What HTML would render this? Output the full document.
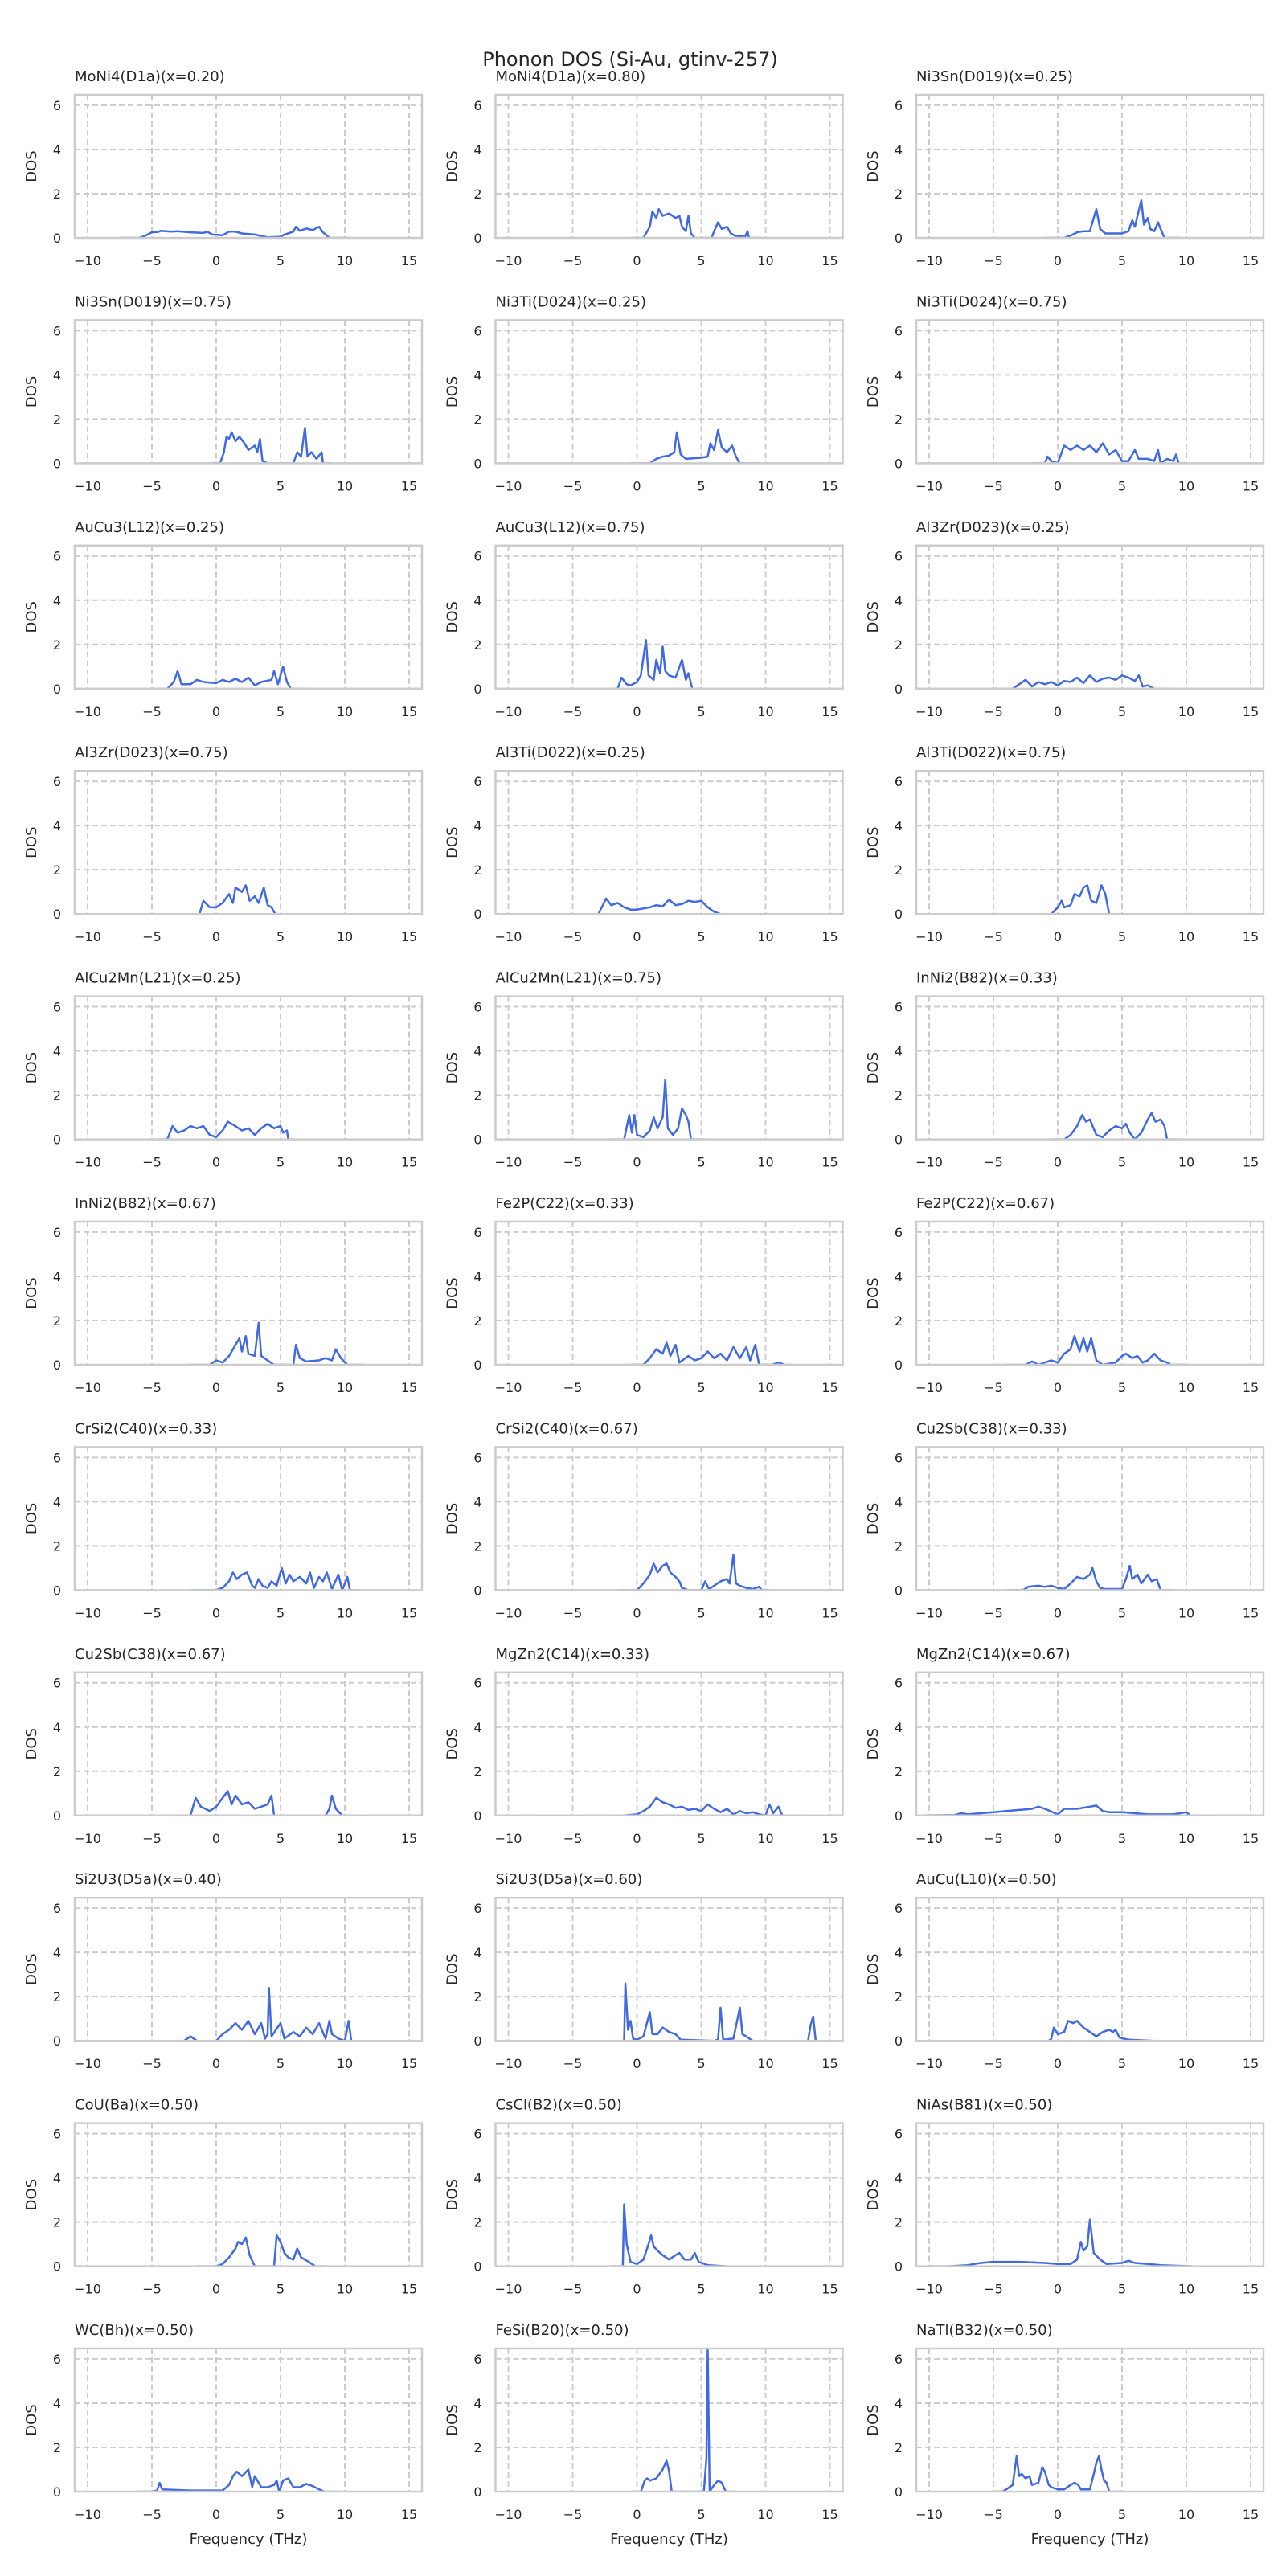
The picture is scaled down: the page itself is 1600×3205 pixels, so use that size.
<!DOCTYPE html>
<html><head><meta charset="utf-8"><title>Phonon DOS (Si-Au, gtinv-257)</title>
<style>
html,body{margin:0;padding:0;background:#fff;}
svg text{font-family:"DejaVu Sans","Liberation Sans",sans-serif;fill:#262626;}
</style></head>
<body>
<svg id="fig" xmlns="http://www.w3.org/2000/svg" width="1600" height="3200" viewBox="0 0 1600 3200">
<rect width="1600" height="3200" fill="#fff"/>
<text x="784" y="82" font-size="24" text-anchor="middle">Phonon DOS (Si-Au, gtinv-257)</text>
</svg>
<script>
const panelTitles = ["MoNi4(D1a)(x=0.20)","MoNi4(D1a)(x=0.80)","Ni3Sn(D019)(x=0.25)","Ni3Sn(D019)(x=0.75)","Ni3Ti(D024)(x=0.25)","Ni3Ti(D024)(x=0.75)","AuCu3(L12)(x=0.25)","AuCu3(L12)(x=0.75)","Al3Zr(D023)(x=0.25)","Al3Zr(D023)(x=0.75)","Al3Ti(D022)(x=0.25)","Al3Ti(D022)(x=0.75)","AlCu2Mn(L21)(x=0.25)","AlCu2Mn(L21)(x=0.75)","InNi2(B82)(x=0.33)","InNi2(B82)(x=0.67)","Fe2P(C22)(x=0.33)","Fe2P(C22)(x=0.67)","CrSi2(C40)(x=0.33)","CrSi2(C40)(x=0.67)","Cu2Sb(C38)(x=0.33)","Cu2Sb(C38)(x=0.67)","MgZn2(C14)(x=0.33)","MgZn2(C14)(x=0.67)","Si2U3(D5a)(x=0.40)","Si2U3(D5a)(x=0.60)","AuCu(L10)(x=0.50)","CoU(Ba)(x=0.50)","CsCl(B2)(x=0.50)","NiAs(B81)(x=0.50)","WC(Bh)(x=0.50)","FeSi(B20)(x=0.50)","NaTl(B32)(x=0.50)"];
const xTicks = [-10,-5,0,5,10,15];
const yTicks = [0,2,4,6];
const xTickLabels = ["\u221210","\u22125","0","5","10","15"];
const yTickLabels = ["0","2","4","6"];
const xDomain = [-11,16];
const yDomain = [0,6.47];

const dosMoNi4_020 = [[-7.5,0],[-6,0],[-5.5,0.1],[-5,0.25],[-4.5,0.27],[-4.3,0.32],[-3.5,0.28],[-3,0.3],[-2,0.25],[-1,0.22],[-0.7,0.28],[-0.3,0.15],[0.5,0.12],[1,0.28],[1.5,0.28],[2,0.2],[3,0.15],[4,0.02],[5,0.05],[5.3,0.15],[6,0.28],[6.2,0.5],[6.5,0.32],[7,0.42],[7.5,0.35],[8,0.5],[8.3,0.25],[8.8,0],[10.3,0]];
const dosMoNi4_080 = [[-0.5,0],[0.5,0],[1,0.5],[1.2,1.2],[1.5,0.9],[1.7,1.3],[2,1.0],[2.5,1.1],[3,0.9],[3.3,1.0],[3.5,0.5],[3.8,0.3],[4,1.0],[4.2,0.2],[4.5,0],[5.8,0],[6,0.3],[6.3,0.7],[6.6,0.4],[7,0.5],[7.3,0.2],[7.6,0.1],[8.4,0.05],[8.6,0.3],[8.7,0],[9.5,0]];
const dosNi3Sn_025 = [[-1,0],[0.5,0],[1,0.1],[1.5,0.25],[2,0.3],[2.5,0.3],[3,1.3],[3.3,0.4],[3.7,0.2],[4.5,0.2],[5,0.2],[5.5,0.3],[5.8,0.8],[6,0.5],[6.2,1.0],[6.5,1.7],[6.7,0.6],[7,0.9],[7.2,0.4],[7.5,0.3],[7.8,0.7],[8,0.4],[8.3,0],[9.5,0]];
const dosNi3Sn_075 = [[-0.5,0],[0.3,0],[0.6,0.5],[0.8,1.2],[1,1.1],[1.2,1.4],[1.5,1.0],[1.8,1.2],[2.2,0.9],[2.5,0.6],[3,0.8],[3.2,0.5],[3.4,1.1],[3.6,0.1],[4,0],[6,0],[6.3,0.5],[6.6,0.3],[6.9,1.6],[7.1,0.3],[7.4,0.5],[7.8,0.2],[8.2,0.5],[8.3,0],[9,0]];
const dosNi3Ti_025 = [[-0.5,0],[1,0],[1.5,0.2],[2,0.3],[2.5,0.35],[2.9,0.5],[3.1,1.4],[3.4,0.4],[3.8,0.2],[5,0.25],[5.5,0.3],[5.7,0.9],[6,0.6],[6.3,1.5],[6.6,0.7],[7,0.5],[7.4,0.8],[7.7,0.3],[8,0],[9.5,0]];
const dosNi3Ti_075 = [[-2,0],[-1,0],[-0.8,0.3],[-0.5,0.1],[0,0],[0.5,0.8],[1,0.6],[1.5,0.8],[2,0.6],[2.5,0.8],[3,0.5],[3.5,0.9],[4,0.4],[4.5,0.6],[5,0.1],[5.5,0.1],[6,0.6],[6.3,0.2],[7,0.2],[7.5,0.1],[7.8,0.6],[8,0],[8.5,0.2],[9,0.1],[9.2,0.4],[9.4,0],[10,0]];
const dosAuCu3_025 = [[-5,0],[-3.8,0],[-3.3,0.3],[-3,0.8],[-2.7,0.2],[-2,0.2],[-1.5,0.4],[-1,0.3],[0,0.25],[0.5,0.4],[1,0.3],[1.5,0.45],[2,0.3],[2.5,0.5],[3,0.15],[3.5,0.3],[4.3,0.4],[4.5,0.8],[4.8,0.2],[5.2,1.0],[5.5,0.3],[5.8,0],[7,0]];
const dosAuCu3_075 = [[-2,0],[-1.5,0],[-1.2,0.5],[-0.8,0.2],[-0.5,0.15],[0,0.3],[0.3,0.6],[0.7,2.2],[0.9,0.6],[1.3,0.4],[1.5,1.3],[1.8,0.7],[2,1.9],[2.2,0.8],[2.5,0.6],[3,0.5],[3.5,1.3],[3.8,0.4],[4,0.7],[4.3,0],[5,0]];
const dosAl3Zr_025 = [[-5,0],[-3.5,0],[-3,0.2],[-2.5,0.4],[-2,0.1],[-1.5,0.3],[-1,0.2],[-0.5,0.3],[0,0.15],[0.5,0.35],[1,0.3],[1.5,0.5],[2,0.25],[2.5,0.6],[3,0.3],[3.5,0.45],[4,0.5],[4.5,0.4],[5,0.6],[5.5,0.5],[6,0.35],[6.3,0.6],[6.6,0.1],[7,0.15],[7.5,0],[9,0]];
const dosAl3Zr_075 = [[-2,0],[-1.3,0],[-1,0.6],[-0.5,0.3],[0,0.3],[0.5,0.5],[1,0.9],[1.3,0.5],[1.5,1.2],[2,1.0],[2.3,1.3],[2.6,0.6],[3,0.8],[3.3,0.5],[3.7,1.2],[4,0.4],[4.3,0.3],[4.6,0],[5.5,0]];
const dosAl3Ti_025 = [[-4,0],[-3,0],[-2.4,0.7],[-2,0.4],[-1.5,0.5],[-1,0.3],[-0.5,0.2],[0,0.2],[1,0.3],[1.5,0.4],[2,0.35],[2.5,0.65],[3,0.4],[3.5,0.45],[4,0.6],[4.5,0.55],[5,0.6],[5.5,0.3],[6,0.1],[6.5,0],[7.2,0]];
const dosAl3Ti_075 = [[-1,0],[-0.5,0],[0,0.3],[0.3,0.6],[0.5,0.3],[1,0.4],[1.3,0.9],[1.7,0.8],[2,1.2],[2.3,1.3],[2.6,0.6],[3,0.5],[3.4,1.3],[3.7,0.9],[4,0],[5,0]];
const dosAlCu2Mn_025 = [[-4.5,0],[-3.8,0],[-3.4,0.6],[-3,0.3],[-2.5,0.4],[-2,0.6],[-1.5,0.5],[-1,0.6],[-0.5,0.2],[0,0.1],[0.5,0.4],[0.9,0.8],[1.5,0.6],[2,0.4],[2.5,0.5],[3,0.2],[3.5,0.5],[4,0.7],[4.5,0.5],[5,0.6],[5.2,0.3],[5.5,0.4],[5.6,0],[6,0]];
const dosAlCu2Mn_075 = [[-2,0],[-1,0],[-0.6,1.1],[-0.4,0.3],[-0.2,1.1],[0,0.2],[0.5,0.1],[1,0.4],[1.3,1.0],[1.6,0.5],[2,1.0],[2.2,2.7],[2.4,0.5],[2.8,0.2],[3.2,0.5],[3.5,1.4],[3.8,1.1],[4,0.8],[4.2,0],[5.3,0]];
const dosInNi2_033 = [[-0.5,0],[0.5,0],[1,0.2],[1.5,0.6],[1.9,1.1],[2.2,0.8],[2.5,0.9],[3,0.2],[3.5,0.1],[4,0.4],[4.5,0.6],[5,0.5],[5.3,0.7],[5.6,0.3],[6,0],[6.5,0.3],[7,0.9],[7.3,1.2],[7.6,0.8],[8,0.9],[8.3,0.6],[8.5,0],[9.5,0]];
const dosInNi2_067 = [[-2,0],[-0.5,0],[0,0.2],[0.5,0.1],[1,0.4],[1.5,0.9],[1.8,1.2],[2,0.6],[2.3,1.3],[2.5,0.5],[3,0.4],[3.3,1.9],[3.5,0.4],[4,0.2],[4.5,0],[6,0],[6.2,0.9],[6.5,0.3],[7,0.15],[8,0.2],[8.5,0.3],[9,0.2],[9.3,0.7],[9.7,0.3],[10.2,0],[11.5,0]];
const dosFe2P_033 = [[-1,0],[0.5,0],[1,0.3],[1.5,0.7],[2,0.5],[2.3,1.0],[2.6,0.4],[3,0.9],[3.3,0.1],[4,0.4],[4.5,0.2],[5,0.3],[5.5,0.6],[6,0.3],[6.5,0.5],[7,0.2],[7.5,0.8],[8,0.3],[8.5,0.8],[8.8,0.2],[9.2,0.9],[9.5,0],[10.5,0],[11,0.1],[11.5,0],[12,0]];
const dosFe2P_067 = [[-4,0],[-2.5,0],[-2,0.15],[-1.5,0],[-1,0.1],[-0.5,0.2],[0,0.1],[0.5,0.5],[1,0.7],[1.3,1.3],[1.7,0.6],[2,1.2],[2.3,0.6],[2.6,1.2],[3,0.2],[3.5,0],[4.5,0.1],[5,0.4],[5.3,0.5],[5.8,0.3],[6.2,0.4],[6.6,0.1],[7,0.2],[7.5,0.5],[8,0.2],[8.5,0.1],[8.8,0],[10,0]];
const dosCrSi2_033 = [[-2,0],[0,0],[0.5,0.1],[1,0.4],[1.3,0.8],[1.6,0.5],[2,0.7],[2.4,0.8],[2.8,0.2],[3,0.1],[3.3,0.5],[3.6,0.2],[4,0.1],[4.3,0.4],[4.7,0.2],[5.1,1.0],[5.4,0.3],[5.7,0.7],[6,0.4],[6.5,0.6],[7,0.3],[7.3,0.8],[7.6,0.1],[8,0.6],[8.3,0.4],[8.6,0.8],[9,0.05],[9.5,0.7],[9.8,0],[10.2,0.6],[10.4,0],[11.3,0]];
const dosCrSi2_067 = [[-1.5,0],[0,0],[0.5,0.3],[1,0.7],[1.3,1.2],[1.6,0.8],[2,1.1],[2.3,1.2],[2.6,0.8],[3,0.6],[3.3,0.4],[3.5,0.1],[4,0],[5,0],[5.3,0.4],[5.6,0.05],[6,0.2],[6.5,0.4],[7,0.5],[7.2,0.3],[7.5,1.6],[7.7,0.3],[8,0.2],[8.5,0.1],[9,0.05],[9.5,0.15],[9.7,0],[10.3,0]];
const dosCu2Sb_033 = [[-4,0],[-2.7,0],[-2.3,0.15],[-1.5,0.2],[-1,0.15],[-0.5,0.2],[0,0.1],[0.5,0.05],[1,0.3],[1.5,0.6],[2,0.5],[2.5,0.7],[2.7,1.0],[3,0.4],[3.3,0.1],[3.6,0.05],[5,0.05],[5.3,0.5],[5.6,1.1],[5.8,0.5],[6.2,0.7],[6.5,0.3],[7,0.7],[7.3,0.4],[7.7,0.5],[8,0],[9,0]];
const dosCu2Sb_067 = [[-3,0],[-2,0],[-1.6,0.8],[-1.2,0.4],[-0.5,0.2],[0,0.4],[0.5,0.8],[0.9,1.1],[1.2,0.5],[1.5,0.9],[2,0.5],[2.5,0.6],[3,0.3],[3.5,0.4],[4,0.5],[4.3,0.9],[4.5,0],[8.5,0],[8.8,0.3],[9,0.9],[9.3,0.3],[9.8,0],[11,0]];
const dosMgZn2_033 = [[-2,0],[-1,0],[0,0.05],[0.5,0.2],[1,0.4],[1.5,0.8],[2,0.6],[2.5,0.5],[3,0.35],[3.5,0.4],[4,0.25],[4.5,0.3],[5,0.2],[5.5,0.5],[6,0.3],[6.5,0.15],[7,0.3],[7.5,0.05],[8,0.2],[8.5,0.1],[9,0.15],[9.5,0.05],[10,0],[10.3,0.5],[10.6,0.1],[11,0.4],[11.3,0],[13,0]];
const dosMgZn2_067 = [[-10.5,0],[-8,0.02],[-7.5,0.1],[-7,0.05],[-6,0.1],[-5,0.15],[-4,0.2],[-3,0.25],[-2,0.3],[-1.5,0.4],[-1,0.3],[0,0.05],[0.5,0.3],[1.5,0.3],[2.5,0.4],[3,0.45],[3.5,0.2],[4,0.15],[5,0.15],[6,0.1],[7,0.05],[8,0.05],[9,0.05],[10,0.15],[10.3,0],[12.5,0]];
const dosSi2U3_040 = [[-4,0],[-2.5,0],[-2,0.2],[-1.5,0],[0,0],[0.5,0.3],[1,0.5],[1.5,0.8],[2,0.5],[2.5,0.9],[3,0.3],[3.5,0.8],[3.8,0.1],[4,0.3],[4.1,2.4],[4.3,0.2],[5,0.8],[5.3,0.1],[6,0.4],[6.5,0.2],[7,0.6],[7.5,0.3],[8,0.8],[8.5,0.1],[8.8,0.9],[9,0.3],[9.5,0.1],[10,0],[10.3,0.9],[10.5,0],[11.5,0]];
const dosSi2U3_060 = [[-3,0],[-1,0],[-0.9,2.6],[-0.7,0.5],[-0.5,0.9],[-0.3,0.1],[0,0.05],[0.5,0.2],[1,1.3],[1.2,0.3],[1.6,0.3],[2,0.6],[2.5,0.4],[3,0.3],[3.4,0.05],[6,0],[6.3,0.05],[6.5,1.5],[6.7,0.05],[7.5,0.1],[8,1.5],[8.2,0.3],[8.5,0.2],[9,0],[13.3,0],[13.5,0.7],[13.7,1.1],[13.9,0],[14.3,0]];
const dosAuCu_050 = [[-2,0],[-0.7,0],[-0.5,0.1],[-0.3,0.6],[0,0.3],[0.5,0.4],[0.8,0.9],[1.2,0.8],[1.5,0.9],[2,0.6],[2.5,0.4],[3,0.2],[3.5,0.4],[4,0.5],[4.3,0.4],[4.5,0.5],[4.8,0.15],[5.5,0.05],[7.5,0]];
const dosCoU_050 = [[-1.5,0],[0,0],[0.5,0.1],[1,0.4],[1.5,0.8],[1.7,1.1],[2,1.0],[2.3,1.3],[2.6,0.5],[3,0],[4.5,0],[4.7,1.4],[5,1.1],[5.3,0.6],[5.6,0.4],[6,0.3],[6.3,0.8],[6.6,0.4],[7.2,0.2],[7.7,0],[8.5,0]];
const dosCsCl_050 = [[-2,0],[-1.1,0],[-1,2.8],[-0.8,1.0],[-0.5,0.2],[0,0.1],[0.5,0.3],[0.9,1.0],[1.1,1.4],[1.3,0.9],[1.6,0.7],[2,0.5],[2.5,0.3],[3,0.5],[3.3,0.6],[3.7,0.3],[4.2,0.3],[4.5,0.6],[4.8,0.2],[5.5,0.05],[7,0]];
const dosNiAs_050 = [[-10,0],[-8.5,0],[-7,0.05],[-6,0.15],[-5,0.2],[-3,0.2],[-1,0.15],[0,0.1],[1,0.1],[1.5,0.3],[1.8,1.1],[2,0.7],[2.3,0.9],[2.5,2.1],[2.8,0.6],[3.3,0.3],[3.8,0.1],[5,0.15],[5.5,0.25],[6,0.15],[7,0.1],[8,0.05],[10.5,0]];
const dosWC_050 = [[-6.2,0],[-5,0],[-4.6,0.05],[-4.4,0.4],[-4.2,0.1],[-2,0.05],[0.5,0.05],[1,0.3],[1.3,0.7],[1.6,0.9],[2,0.7],[2.5,1.0],[2.8,0.2],[3,0.7],[3.5,0.2],[4,0.2],[4.5,0.3],[4.7,0.5],[4.9,0],[5.2,0.5],[5.6,0.6],[6,0.2],[6.5,0.2],[7,0.35],[7.5,0.25],[8,0.1],[8.4,0],[9.5,0]];
const dosFeSi_050 = [[-0.3,0],[0.3,0],[0.6,0.5],[0.8,0.6],[1,0.5],[1.5,0.6],[2,1.0],[2.3,1.4],[2.5,0.9],[2.7,0],[5.2,0],[5.4,1.5],[5.5,6.5],[5.65,0],[6,0.3],[6.3,0.5],[6.6,0.4],[6.9,0],[7.7,0]];
const dosNaTl_050 = [[-5,0],[-4.3,0],[-4,0.1],[-3.5,0.3],[-3.2,1.6],[-3,0.7],[-2.8,0.8],[-2.5,0.6],[-2.2,0.7],[-2,0.3],[-1.5,0.4],[-1.2,1.1],[-1,0.9],[-0.7,0.3],[-0.5,0.2],[0,0.1],[0.5,0.1],[1,0.3],[1.3,0.4],[1.6,0.3],[1.8,0.1],[2.5,0.1],[2.8,0.8],[3,1.3],[3.2,1.6],[3.4,1.0],[3.6,0.5],[3.8,0.4],[4,0],[5,0]];

const allSeries = [dosMoNi4_020,dosMoNi4_080,dosNi3Sn_025,dosNi3Sn_075,dosNi3Ti_025,dosNi3Ti_075,dosAuCu3_025,dosAuCu3_075,dosAl3Zr_025,dosAl3Zr_075,dosAl3Ti_025,dosAl3Ti_075,dosAlCu2Mn_025,dosAlCu2Mn_075,dosInNi2_033,dosInNi2_067,dosFe2P_033,dosFe2P_067,dosCrSi2_033,dosCrSi2_067,dosCu2Sb_033,dosCu2Sb_067,dosMgZn2_033,dosMgZn2_067,dosSi2U3_040,dosSi2U3_060,dosAuCu_050,dosCoU_050,dosCsCl_050,dosNiAs_050,dosWC_050,dosFeSi_050,dosNaTl_050];

(function(){
  const NS = "http://www.w3.org/2000/svg";
  const svg = document.getElementById('fig');
  const colX = [93, 616.5, 1140];
  const W = 432, H = 178, rowTop0 = 118, rowStep = 280.4;
  function mk(tag, attrs, parent){
    const e = document.createElementNS(NS, tag);
    for (const k in attrs) e.setAttribute(k, attrs[k]);
    parent.appendChild(e);
    return e;
  }
  const defs = mk('defs', {}, svg);
  panelTitles.forEach(function(title, i){
    const r = Math.floor(i/3), c = i%3;
    const L = colX[c], T = rowTop0 + r*rowStep;
    const xs = function(v){ return L + (v - xDomain[0])/(xDomain[1]-xDomain[0])*W; };
    const ys = function(v){ return T + H - (v - yDomain[0])/(yDomain[1]-yDomain[0])*H; };
    const g = mk('g', {}, svg);
    
    
    const cp = mk('clipPath', {id:'clip'+i}, defs);
    mk('rect', {x:L, y:T, width:W, height:H}, cp);
    // grid
    xTicks.forEach(function(t, k){
      const gl = mk('line', {x1:xs(t), x2:xs(t), y1:T, y2:T+H, stroke:'#cccccc', 'stroke-width':2, 'stroke-dasharray':'7,4'}, g);
      
      
      const tl = mk('text', {x:xs(t), y:T+H+34, 'font-size':16, 'text-anchor':'middle'}, g);
      tl.textContent = xTickLabels[k];
      
      
    });
    yTicks.forEach(function(t, k){
      const gl = mk('line', {x1:L, x2:L+W, y1:ys(t), y2:ys(t), stroke:'#cccccc', 'stroke-width':2, 'stroke-dasharray':'7,4'}, g);
      
      
      const tl = mk('text', {x:L-17, y:ys(t)+6, 'font-size':16, 'text-anchor':'end'}, g);
      tl.textContent = yTickLabels[k];
      
      
    });
    // curve
    const pts = allSeries[i].map(function(p){ return xs(p[0]).toFixed(1)+','+ys(p[1]).toFixed(1); }).join(' ');
    const pl = mk('polyline', {points:pts, fill:'none', stroke:'#4169e1', 'stroke-width':2.5, 'stroke-linejoin':'round', 'clip-path':'url(#clip'+i+')'}, g);
    
    
    // frame
    const fr = mk('rect', {x:L, y:T, width:W, height:H, fill:'none', stroke:'#cccccc', 'stroke-width':2.5}, g);
    
    
    // title
    const tt = mk('text', {x:L, y:T-17, 'font-size':18}, g);
    tt.textContent = title;
    
    
    // y label
    const yl = mk('text', {x:0, y:0, 'font-size':18, 'text-anchor':'middle', transform:'translate('+(L-48)+','+(T+H/2)+') rotate(-90)'}, g);
    yl.textContent = 'DOS';
    
    
    if (r === 10){
      const xl = mk('text', {x:L+W/2, y:T+H+65, 'font-size':18, 'text-anchor':'middle'}, g);
      xl.textContent = 'Frequency (THz)';
      
      
    }
  });
})();
</script>
</body></html>
